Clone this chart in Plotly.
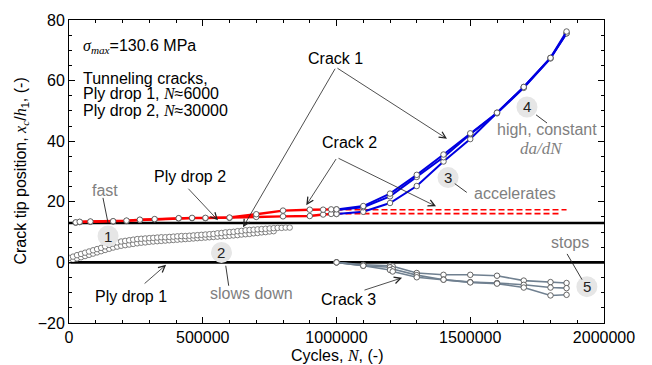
import plotly.graph_objects as go

# ---------------- data ----------------
# Crack 2 (red), growing towards ply drop 2 region
red_N = [25000, 40000, 80000, 165000, 215000, 265000, 320000, 410000, 460000,
         510000, 600000, 700000, 800000, 900000, 950000, 980000, 1000000]
red_upper = [13.2, 13.4, 13.5, 13.6, 13.8, 14.1, 14.3, 14.6, 14.7,
             14.7, 14.8, 15.9, 17.1, 17.4, 17.4, 17.5, 17.5]
red_lower = [13.1, 13.3, 13.4, 13.5, 13.7, 14.0, 14.2, 14.5, 14.6,
             14.6, 14.7, 15.0, 15.2, 15.3, 15.8, 16.0, 16.0]
# Crack 2 arrested (dashed)
red_dash_N_upper = [1000000, 1860000]
red_dash_upper = [17.4, 17.4]
red_dash_N_lower = [1000000, 1840000]
red_dash_lower = [16.1, 16.1]

# Crack 1 (blue) between ply drops - dense measurements
c1_upper_N = [0, 15000, 30000, 45000, 60000, 75000, 90000, 105000, 120000, 135000,
              150000, 165000, 180000, 195000, 210000, 225000, 240000, 255000, 270000, 285000,
              300000, 315000, 330000, 345000, 360000, 375000, 390000, 405000, 420000, 435000,
              450000, 465000, 480000, 495000, 510000, 525000, 540000, 555000, 570000, 585000,
              600000, 615000, 630000, 645000, 660000, 675000, 690000, 705000, 720000, 735000,
              750000, 765000, 780000, 795000, 810000, 825000]
c1_upper = [1.5, 1.9, 2.4, 2.8, 3.2, 3.6, 4.0, 4.4, 4.8, 5.3,
            5.8, 6.2, 6.6, 6.9, 7.1, 7.3, 7.5, 7.7, 7.8, 7.9,
            8.0, 8.1, 8.2, 8.3, 8.3, 8.4, 8.5, 8.6, 8.7, 8.7,
            8.8, 8.9, 9.0, 9.1, 9.2, 9.3, 9.4, 9.6, 9.7, 9.9,
            10.0, 10.1, 10.3, 10.4, 10.6, 10.7, 10.8, 10.9, 11.0, 11.1,
            11.2, 11.3, 11.4, 11.4, 11.5, 11.5]
c1_lower_N = [0, 15000, 30000, 45000, 60000, 75000, 90000, 105000, 120000, 135000,
              150000, 165000, 180000, 195000, 210000, 225000, 240000, 255000, 270000, 285000,
              300000, 315000, 330000, 345000, 360000, 375000, 390000, 405000, 420000, 435000,
              450000, 465000, 480000, 495000, 510000, 525000, 540000, 555000, 570000, 585000,
              600000, 615000, 630000, 645000, 660000, 675000, 690000, 705000, 720000, 735000,
              750000, 765000]
c1_lower = [0.5, 0.9, 1.3, 1.7, 2.1, 2.5, 2.9, 3.3, 3.7, 4.1,
            4.5, 4.9, 5.2, 5.5, 5.7, 5.9, 6.1, 6.3, 6.5, 6.6,
            6.8, 6.9, 7.0, 7.1, 7.2, 7.3, 7.4, 7.5, 7.6, 7.7,
            7.8, 7.9, 8.0, 8.1, 8.2, 8.3, 8.4, 8.5, 8.6, 8.7,
            8.8, 8.9, 9.0, 9.2, 9.3, 9.4, 9.6, 9.7, 9.9, 10.0,
            10.2, 10.3]

# Crack 1 (blue) beyond ply drop 2
c1b_N = [1000000, 1100000, 1200000, 1300000, 1400000, 1500000, 1600000, 1700000, 1800000, 1860000]
c1b_a = [17.5, 18.6, 22.7, 28.9, 35.6, 42.6, 49.4, 57.9, 67.5, 76.2]
c1b_b = [17.3, 18.2, 21.8, 28.2, 34.7, 42.3, 49.2, 57.6, 67.3, 75.6]
c1b_c = [16.0, 16.7, 19.6, 25.2, 33.3, 40.7, 49.4, 57.9, 67.5, 75.6]

# Crack 3 (slate grey)
c3_N = [1000000, 1100000, 1200000, 1210000, 1300000, 1400000, 1500000, 1600000, 1700000, 1800000, 1860000]
c3_a = [0.0, -0.8, -1.1, -1.3, -3.5, -4.1, -4.1, -4.4, -6.0, -6.5, -6.8]
c3_b = [0.0, -1.1, -1.6, -2.2, -4.2, -5.7, -6.5, -6.8, -7.4, -8.3, -8.5]
c3_c = [0.0, -1.1, -2.5, -3.0, -4.9, -5.7, -6.6, -7.0, -8.3, -10.9, -10.7]

ply_drop_positions = [0, 13]

x_tickvals = [0, 500000, 1000000, 1500000, 2000000]
y_tickvals = [-20, 0, 20, 40, 60, 80]

# ---------------- styles ----------------
FONT = "Liberation Sans"
MATH = "Liberation Serif"
RED = "#ff0000"
BLUE = "#0000e0"
SLATE = "#708090"
GREY_TXT = "#808080"

def mk(edge="#555555"):
    return dict(symbol="circle", size=5.5, color="white", line=dict(color=edge, width=0.9))

fig = go.Figure()

# crack 1 dense cluster
for xs, ys in [(c1_lower_N, c1_lower), (c1_upper_N, c1_upper)]:
    fig.add_trace(go.Scatter(x=xs, y=ys, mode="lines+markers",
                             line=dict(color=BLUE, width=1.3, dash="4px,3px"),
                             marker=mk("#707070")))
# red crack 2 dashed continuation
fig.add_trace(go.Scatter(x=red_dash_N_upper, y=red_dash_upper, mode="lines",
                         line=dict(color=RED, width=1.6, dash="6px,3px")))
fig.add_trace(go.Scatter(x=red_dash_N_lower, y=red_dash_lower, mode="lines",
                         line=dict(color=RED, width=1.6, dash="6px,3px")))
# blue crack 1 beyond ply drop 2
for ys in [c1b_c, c1b_b, c1b_a]:
    fig.add_trace(go.Scatter(x=c1b_N, y=ys, mode="lines+markers",
                             line=dict(color=BLUE, width=2), marker=mk()))
# red crack 2
for ys in [red_lower, red_upper]:
    fig.add_trace(go.Scatter(x=red_N, y=ys, mode="lines+markers",
                             line=dict(color=RED, width=2.4), marker=mk()))
# crack 3
for ys in [c3_a, c3_b, c3_c]:
    fig.add_trace(go.Scatter(x=c3_N, y=ys, mode="lines+markers",
                             line=dict(color=SLATE, width=1.6), marker=mk()))

shapes = []
for yv in ply_drop_positions:
    shapes.append(dict(type="line", xref="paper", x0=0, x1=1, yref="y", y0=yv, y1=yv,
                       line=dict(color="black", width=2.6), layer="below"))

# numbered badges
badges = [("1", 146000, 8.7), ("2", 570000, 3.3), ("3", 1417000, 28.0),
          ("4", 1712000, 51.3), ("5", 1936000, -8.0)]
annotations = []
for label, bx, by in badges:
    shapes.append(dict(type="circle", xref="x", yref="y", xsizemode="pixel", ysizemode="pixel",
                       xanchor=bx, yanchor=by, x0=-10.5, x1=10.5, y0=-10.5, y1=10.5,
                       fillcolor="#e6e6e6", line=dict(width=0), layer="above"))
    annotations.append(dict(x=bx, y=by, text=label, showarrow=False,
                            font=dict(family=FONT, size=15, color="#222222")))

# leader lines for the badges
leaders = [(127000, 21.3, 146000, 13.0), (586000, -1.1, 597000, -7.7),
           (1442000, 26.0, 1487000, 23.1), (1746000, 48.7, 1787000, 46.0),
           (1862000, 2.8, 1918000, -5.7)]
for x0, y0, x1, y1 in leaders:
    shapes.append(dict(type="line", xref="x", yref="y", x0=x0, y0=y0, x1=x1, y1=y1,
                       line=dict(color="#222222", width=0.9)))

def arrow(tail_x, tail_y, tip_x, tip_y):
    annotations.append(dict(x=tip_x, y=tip_y, ax=tail_x, ay=tail_y, axref="x", ayref="y",
                            xref="x", yref="y", text="", showarrow=True,
                            arrowhead=5, arrowsize=1.6, arrowwidth=0.8, arrowcolor="#222222",
                            standoff=0, startstandoff=0))

# Crack 1 arrows
arrow(998000, 64.4, 650500, 11.6)
arrow(998000, 64.4, 1413000, 40.8)
# Crack 2 arrows
arrow(1002000, 34.6, 887000, 18.9)
arrow(1002000, 34.6, 1372000, 18.5)
# Ply drop 2
arrow(441000, 24.8, 557000, 13.9)
# Ply drop 1
arrow(277000, -7.4, 363000, -0.8)
# Crack 3
arrow(1099000, -9.3, 1245000, -5.1)

def txt(x, y, s, color="black", size=16, xanchor="center"):
    annotations.append(dict(x=x, y=y, xref="x", yref="y", text=s, showarrow=False,
                            xanchor=xanchor, yanchor="middle",
                            font=dict(family=FONT, size=size, color=color)))

def m(s):
    return '<span style="font-family:%s"><i>%s</i></span>' % (MATH, s)

txt(998000, 67.4, "Crack 1")
txt(1047000, 39.5, "Crack 2")
txt(1043000, -12.3, "Crack 3")
txt(452000, 28.4, "Ply drop 2")
txt(232000, -11.3, "Ply drop 1")
txt(134600, 23.8, "fast", GREY_TXT)
txt(684000, -10.3, "slows down", GREY_TXT)
txt(1667000, 22.8, "accelerates", GREY_TXT)
txt(1787000, 43.8, "high, constant", GREY_TXT)
txt(1768000, 37.5, m("da/dN"), GREY_TXT, size=17)
txt(1873000, 6.7, "stops", GREY_TXT)

txt(44900, 71.3, m("σ") + "<sub>" + m("max") + "</sub>=130.6 MPa", xanchor="left")
txt(44900, 60.8, "Tunneling cracks,", xanchor="left")
txt(44900, 55.6, "Ply drop 1, " + m("N") + "≈6000", xanchor="left")
txt(44900, 50.0, "Ply drop 2, " + m("N") + "≈30000", xanchor="left")

# axis titles
annotations.append(dict(xref="paper", yref="paper", x=0.5, y=-0.108, showarrow=False,
                        text="Cycles, " + m("N") + ", (-)", xanchor="center", yanchor="middle",
                        font=dict(family=FONT, size=16, color="black")))
annotations.append(dict(xref="paper", yref="paper", x=-0.0897, y=0.5, showarrow=False,
                        textangle=-90, xanchor="center", yanchor="middle",
                        text="Crack tip position, " + m("x") + "<sub>" + m("c") + "</sub>/" + m("h")
                             + "<sub>1</sub>, (-)",
                        font=dict(family=FONT, size=16, color="black")))

axis_common = dict(showgrid=False, zeroline=False, showline=True, linecolor="black", linewidth=1,
                   mirror="allticks", ticks="inside", ticklen=6, tickwidth=1, tickcolor="black",
                   tickfont=dict(family=FONT, size=16, color="black"))

fig.update_layout(
    width=652, height=365,
    margin=dict(l=69, r=48, t=18, b=42),
    paper_bgcolor="white", plot_bgcolor="white",
    showlegend=False,
    shapes=shapes, annotations=annotations,
    xaxis=dict(range=[0, 2000000], tickvals=x_tickvals, tickformat="d",
               minor=dict(ticks="inside", dtick=100000, ticklen=3, tickcolor="black"),
               **axis_common),
    yaxis=dict(range=[-20, 80], tickvals=y_tickvals,
               minor=dict(ticks="inside", dtick=5, ticklen=3, tickcolor="black"),
               **axis_common),
)

fig.write_html("out.html")
